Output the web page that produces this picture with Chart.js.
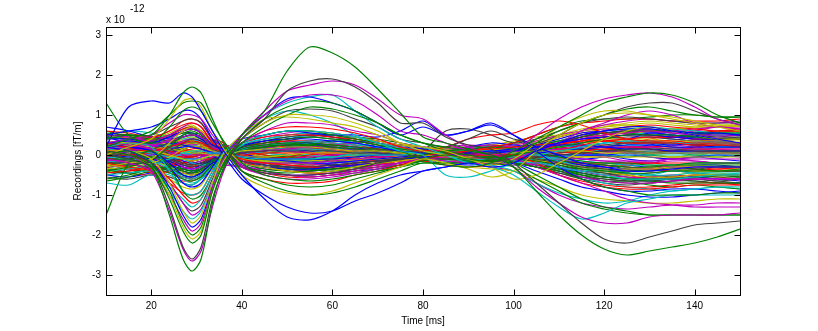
<!DOCTYPE html>
<html>
<head>
<meta charset="utf-8">
<script src="https://cdn.jsdelivr.net/npm/chart.js@4"></script>
<style>
  html, body { margin: 0; padding: 0; background: #fff; }
  #wrap { width: 818px; height: 331px; }
</style>
</head>
<body>
<div id="wrap"><canvas id="meg_chart" width="818" height="331"></canvas></div>
<script>
// sample times (ms)
const timeMs = [10,15,20,24,27,29,31,33.5, 36,40,45,50,55,60,65,70, 75,80,85,90,95,100,105,110, 115,120,125,130,135,140,145,150];
const xTickValues = [20,40,60,80,100,120,140];
const yTickValues = [-3,-2,-1,0,1,2,3];

// channels with the large deflections (x 1e-12)
const strongChannels = [
  [0.1,0.0,-0.3,-1.5,-2.6,-2.9,-2.6,-1.2, -0.3,0.5,1.1,2.1,2.7,2.55,2.2,1.65, 1.05,0.45,0.3,0.15,0.0,-0.3,-0.9,-1.5, -2.0,-2.35,-2.5,-2.4,-2.3,-2.2,-2.05,-1.85],
  [0.0,-0.1,-0.3,-1.3,-2.3,-2.6,-2.3,-1.1, -0.35,0.4,0.9,1.6,1.85,1.9,1.7,1.3, 0.8,0.8,0.45,0.25,0.15,-0.2,-0.7,-1.2, -1.7,-2.1,-2.2,-2.05,-1.9,-1.75,-1.7,-1.65],
  [0.1,0.0,-0.4,-1.4,-2.35,-2.65,-2.4,-1.3, -0.4,0.5,1.1,1.6,1.75,1.85,1.75,1.4, 1.0,0.9,0.5,0.2,0.0,-0.3,-0.8,-1.2, -1.55,-1.7,-1.7,-1.55,-1.5,-1.5,-1.5,-1.45],
  [0.4,0.5,0.5,1.0,1.55,1.7,1.55,0.9, 0.3,-0.4,-0.7,-0.9,-1.0,-0.95,-0.8,-0.6, -0.4,-0.2,-0.25,-0.3,-0.2,0.1,0.4,0.7, 1.0,1.3,1.45,1.55,1.5,1.3,1.0,0.8],
  [0.2,1.2,1.35,1.3,1.55,1.45,1.1,0.6, 0.1,-0.5,-1.1,-1.55,-1.62,-1.4,-1.0,-0.7, -0.5,-0.4,-0.3,-0.2,-0.3,-0.2,0.1,0.3, 0.5,0.6,0.7,0.7,0.6,0.5,0.4,0.3],
  [0.0,0.2,0.4,0.9,1.35,1.4,1.2,0.6, 0.15,-0.5,-0.8,-0.95,-1.0,-0.9,-0.7,-0.5, -0.3,-0.1,-0.2,-0.35,-0.55,-0.4,0.1,0.5, 0.8,1.0,1.05,1.0,0.95,0.85,0.75,0.7],
  [0.2,0.4,0.6,1.0,1.3,1.35,1.3,0.8, 0.35,-0.2,-0.5,-0.6,-0.65,-0.6,-0.5,-0.4, -0.3,-0.1,0.0,-0.1,-0.15,0.0,0.3,0.6, 0.8,1.0,1.15,1.2,1.1,1.0,0.95,0.95],
  [0.0,-0.1,-0.3,-1.1,-1.9,-2.2,-2.0,-0.9, -0.2,0.4,0.9,1.2,1.35,1.3,1.1,0.8, 0.5,0.3,0.2,0.1,0.0,-0.2,-0.5,-0.8, -1.1,-1.3,-1.4,-1.5,-1.5,-1.5,-1.5,-1.5],
  [0.1,0.0,-0.3,-1.0,-1.8,-2.1,-1.9,-0.9, -0.15,0.4,0.8,1.0,1.0,0.95,0.8,0.6, 0.3,0.2,0.1,-0.1,-0.3,-0.6,-0.5,-0.2, 0.1,0.4,0.6,0.7,0.6,0.5,0.4,0.4],
  [0.0,0.1,-0.2,-0.9,-1.7,-2.0,-1.8,-0.9, -0.25,0.3,0.7,1.0,1.2,1.15,1.0,0.8, 0.5,0.3,0.1,0.0,-0.1,-0.2,-0.3,-0.4, -0.6,-0.8,-0.9,-1.0,-1.0,-1.0,-0.95,-0.95],
  [-0.1,-0.2,-0.4,-1.0,-1.6,-1.9,-1.7,-0.8, -0.1,0.5,1.0,1.35,1.5,1.5,1.35,1.0, 0.6,0.5,0.3,0.1,0.0,0.1,0.5,0.9, 1.2,1.4,1.5,1.55,1.45,1.2,0.9,0.75],
  [0.2,0.1,-0.2,-0.8,-1.5,-1.8,-1.6,-0.8, -0.15,0.5,1.0,1.4,1.45,1.3,1.1,0.8, 0.5,0.7,0.5,0.6,0.75,0.5,0.2,0.0, -0.2,-0.3,-0.4,-0.4,-0.35,-0.3,-0.3,-0.3],
  [0.1,0.1,-0.1,-0.7,-1.4,-1.7,-1.5,-0.7, 0.05,0.5,0.9,0.95,0.9,0.8,0.7,0.5, 0.3,0.1,0.0,-0.1,-0.2,-0.1,0.3,0.7, 0.95,1.1,1.1,1.0,0.9,0.8,0.7,0.6],
  [0.0,-0.1,-0.3,-0.9,-1.4,-1.6,-1.4,-0.7, -0.1,0.5,1.0,1.3,1.45,1.5,1.1,0.7, 0.4,0.2,0.0,-0.2,-0.3,-0.5,-0.9,-1.3, -1.6,-1.45,-1.2,-1.1,-1.0,-1.0,-1.0,-1.0],
  [0.2,0.1,-0.2,-0.7,-1.2,-1.5,-1.35,-0.7, -0.2,0.3,0.6,0.8,0.8,0.75,0.6,0.5, 0.3,0.2,0.1,0.0,-0.1,-0.1,-0.3,-0.5, -0.7,-0.9,-1.1,-1.2,-1.25,-1.3,-1.3,-1.3],
  [0.0,0.0,-0.2,-0.7,-1.2,-1.4,-1.25,-0.6, -0.05,0.4,0.8,1.1,1.15,1.1,0.9,0.7, 0.4,0.3,0.2,0.4,0.6,0.4,0.3,0.5, 0.8,1.0,1.2,1.3,1.3,1.1,0.9,0.75],
  [-0.7,-0.75,-0.5,-0.8,-1.1,-1.3,-1.1,-0.5, 0.05,0.3,0.5,0.6,0.6,0.55,0.45,0.3, 0.1,0.0,-0.5,-0.55,-0.4,-0.2,-0.2,-0.3, -0.4,-0.5,-0.6,-0.6,-0.6,-0.55,-0.5,-0.5],
  [0.1,0.0,-0.2,-0.6,-1.0,-1.2,-1.1,-0.5, -0.1,0.3,0.6,0.7,0.7,0.65,0.55,0.4, 0.2,0.1,0.2,0.4,0.5,0.55,0.75,0.85, 0.75,0.55,0.4,0.35,0.35,0.3,0.3,0.3],
  [1.3,0.5,0.3,0.7,1.1,1.2,1.1,0.6, 0.2,-0.4,-0.6,-0.75,-0.8,-0.75,-0.6,-0.45, -0.3,-0.2,-0.2,-0.2,-0.1,0.0,0.1,0.2, 0.3,0.4,0.5,0.5,0.5,0.45,0.4,0.4],
  [0.3,0.4,0.5,0.8,1.0,1.0,0.9,0.5, 0.15,-0.3,-0.5,-0.6,-0.6,-0.55,-0.45,-0.35, -0.2,-0.1,-0.15,-0.2,-0.2,-0.1,0.1,0.3, 0.6,0.8,1.0,1.1,1.0,0.8,0.7,0.65],
  [0.5,0.6,0.7,0.9,1.1,1.1,0.9,0.4, 0.0,-0.6,-1.0,-1.3,-1.45,-1.4,-1.15,-0.95, -0.7,-0.4,-0.3,-0.2,-0.2,-0.2,-0.4,-0.6, -0.8,-0.9,-1.0,-1.05,-1.05,-1.0,-0.95,-0.9],
  [-1.5,-0.2,0.1,-0.3,-0.9,-1.1,-1.0,-0.5, 0.1,0.3,0.5,0.6,0.6,0.5,0.4,0.3, 0.1,-0.1,-0.1,-0.15,-0.2,-0.3,-0.6,-0.9, -1.2,-1.35,-1.45,-1.5,-1.5,-1.5,-1.5,-1.5],
  [0.5,0.5,0.5,0.7,0.85,0.9,0.8,0.4, 0.2,-0.3,-0.45,-0.5,-0.5,-0.45,-0.35,-0.2, -0.1,0.1,0.6,0.65,0.5,0.3,0.4,0.6, 0.8,0.9,0.95,0.9,0.85,0.8,0.8,0.8],
  [0.2,0.3,0.2,-0.4,-0.9,-1.0,-0.9,-0.4, 0.05,0.5,0.9,1.1,1.0,0.8,0.5,0.3, 0.2,0.1,0.0,-0.2,-0.25,-0.4,-0.7,-0.95, -1.1,-1.2,-1.15,-1.0,-0.9,-0.85,-0.8,-0.8],
  [0.3,0.2,0.4,0.6,0.75,0.8,0.7,0.3, 0.15,-0.4,-0.6,-0.7,-0.7,-0.65,-0.5,-0.4, -0.25,-0.1,0.0,0.1,0.2,0.3,0.5,0.7, 0.8,0.85,0.9,0.9,0.85,0.85,0.85,0.9],
  [0.3,0.2,0.1,-0.3,-0.7,-0.8,-0.7,-0.3, 0.1,0.4,0.5,0.6,0.55,0.5,0.5,0.45, 0.6,0.85,0.5,0.6,0.8,0.5,0.1,-0.3, -0.6,-0.8,-0.9,-0.9,-0.85,-0.85,-0.9,-0.95],
  [-0.3,-0.2,-0.1,0.3,0.6,0.7,0.6,0.3, 0.2,-0.2,-0.3,-0.4,-0.45,-0.4,-0.3,-0.2, -0.15,-0.1,-0.2,-0.3,-0.35,-0.4,-0.6,-0.8, -1.0,-1.1,-1.15,-1.2,-1.2,-1.15,-1.1,-1.1],
  [0.0,0.1,0.2,0.4,0.6,0.65,0.55,0.2, 0.1,-0.3,-0.45,-0.5,-0.5,-0.45,-0.35,-0.25, -0.2,-0.1,-0.1,-0.2,-0.3,-0.4,-0.7,-1.0, -1.2,-1.3,-1.35,-1.3,-1.25,-1.25,-1.2,-1.2],
  [-0.4,-0.3,-0.1,0.2,0.5,0.55,0.5,0.2, 0.1,-0.3,-0.4,-0.45,-0.4,-0.35,-0.3,-0.2, -0.1,0.0,0.1,0.15,0.2,0.3,0.5,0.7, 0.85,0.9,0.9,0.95,1.0,1.0,0.95,0.95],
  [-0.2,-0.3,-0.4,-0.7,-0.95,-1.0,-0.9,-0.4, 0.05,0.3,0.45,0.5,0.5,0.45,0.4,0.3, 0.2,0.1,0.1,0.0,0.0,0.0,-0.2,-0.5, -0.7,-0.8,-0.85,-0.85,-0.8,-0.75,-0.75,-0.75]
];
const strongColors = "gkmgbyggygmbycmkcrgmbgkcrbymgr";

// the dense band of smaller channels (x 1e-12)
const bandChannels = [
  [0.3,0.35,0.3,0.45,0.6,0.65,0.55,0.25, 0.15,-0.2,-0.3,-0.35,-0.35,-0.3,-0.25,-0.2, -0.1,-0.05,0.0,0.05,0.1,0.1,0.2,0.3, 0.4,0.45,0.5,0.5,0.45,0.4,0.4,0.4],
  [-0.2,-0.25,-0.3,-0.45,-0.6,-0.65,-0.55,-0.25, -0.1,0.2,0.3,0.4,0.45,0.4,0.35,0.25, 0.15,0.1,0.05,0.0,-0.05,-0.1,-0.15,-0.25, -0.35,-0.4,-0.45,-0.45,-0.4,-0.4,-0.4,-0.4],
  [0.1,0.15,0.1,0.2,0.3,0.35,0.3,0.15, 0.1,-0.1,-0.2,-0.25,-0.3,-0.3,-0.25,-0.2, -0.1,0.0,0.05,0.1,0.15,0.2,0.25,0.3, 0.35,0.35,0.3,0.3,0.3,0.25,0.25,0.25],
  [-0.5,-0.45,-0.4,-0.5,-0.7,-0.75,-0.6,-0.3, -0.2,0.25,0.4,0.5,0.55,0.5,0.4,0.3, 0.2,0.1,0.0,-0.1,-0.1,-0.05,0.0,0.1, 0.2,0.3,0.35,0.35,0.3,0.3,0.3,0.3],
  [0.5,0.45,0.35,0.5,0.7,0.8,0.7,0.35, 0.25,-0.25,-0.4,-0.5,-0.55,-0.5,-0.4,-0.3, -0.2,-0.1,-0.05,0.0,0.0,-0.1,-0.25,-0.4, -0.55,-0.65,-0.7,-0.7,-0.65,-0.6,-0.6,-0.6],
  [0.0,0.05,0.1,0.0,-0.1,-0.15,-0.1,0.0, 0.0,0.1,0.15,0.2,0.2,0.15,0.1,0.1, 0.05,0.0,-0.05,-0.05,0.0,0.05,0.1,0.1, 0.1,0.05,0.05,0.05,0.05,0.05,0.05,0.05],
  [-0.3,-0.2,-0.1,0.1,0.3,0.4,0.35,0.15, 0.05,-0.15,-0.25,-0.3,-0.3,-0.25,-0.2,-0.15, -0.1,-0.05,0.0,0.05,0.05,0.0,-0.1,-0.2, -0.3,-0.35,-0.4,-0.4,-0.35,-0.35,-0.3,-0.3],
  [0.25,0.2,0.1,-0.2,-0.5,-0.55,-0.45,-0.2, -0.15,0.2,0.35,0.4,0.4,0.35,0.3,0.2, 0.1,0.05,0.0,0.0,0.05,0.1,0.25,0.4, 0.55,0.6,0.65,0.65,0.6,0.55,0.55,0.5],
  [-0.1,-0.1,-0.05,-0.25,-0.4,-0.45,-0.4,-0.2, -0.05,0.1,0.2,0.25,0.25,0.2,0.15,0.1, 0.05,0.05,0.1,0.15,0.2,0.15,0.05,-0.05, -0.15,-0.2,-0.2,-0.25,-0.25,-0.2,-0.2,-0.2],
  [0.6,0.55,0.45,0.6,0.85,0.9,0.8,0.4, 0.3,-0.3,-0.45,-0.55,-0.55,-0.5,-0.4,-0.3, -0.2,-0.1,0.0,0.05,0.0,-0.05,0.0,0.1, 0.25,0.35,0.4,0.45,0.45,0.4,0.4,0.4],
  [-0.4,-0.35,-0.25,-0.1,0.05,0.1,0.1,0.05, 0.05,-0.05,-0.1,-0.1,-0.1,-0.05,0.0,0.0, 0.0,0.05,0.1,0.1,0.1,0.05,0.0,-0.1, -0.15,-0.2,-0.25,-0.25,-0.25,-0.2,-0.2,-0.2],
  [0.15,0.2,0.25,0.35,0.45,0.5,0.45,0.2, 0.1,-0.15,-0.2,-0.2,-0.2,-0.15,-0.1,-0.05, 0.0,0.05,0.1,0.2,0.25,0.2,0.2,0.3, 0.4,0.5,0.55,0.6,0.55,0.5,0.5,0.5],
  [-0.25,-0.3,-0.4,-0.6,-0.8,-0.85,-0.75,-0.35, -0.25,0.3,0.5,0.6,0.6,0.55,0.45,0.35, 0.25,0.2,0.15,0.1,0.05,0.0,-0.1,-0.2, -0.3,-0.35,-0.35,-0.35,-0.3,-0.3,-0.3,-0.3],
  [0.05,0.0,-0.05,-0.1,-0.2,-0.25,-0.2,-0.1, -0.05,0.05,0.1,0.1,0.1,0.1,0.05,0.05, 0.0,-0.05,-0.1,-0.1,-0.15,-0.1,-0.05,0.0, 0.05,0.1,0.15,0.15,0.15,0.1,0.1,0.1],
  [0.4,0.4,0.35,0.3,0.25,0.2,0.15,0.05, 0.0,-0.05,-0.1,-0.15,-0.2,-0.2,-0.15,-0.1, -0.05,0.0,0.0,0.05,0.1,0.15,0.2,0.25, 0.25,0.2,0.15,0.15,0.1,0.1,0.1,0.1],
  [-0.6,-0.5,-0.35,-0.3,-0.35,-0.4,-0.35,-0.15, -0.1,0.15,0.25,0.3,0.3,0.25,0.2,0.15, 0.1,0.05,-0.05,-0.1,-0.15,-0.2,-0.3,-0.4, -0.5,-0.55,-0.6,-0.6,-0.6,-0.55,-0.55,-0.55],
  [0.2,0.3,0.35,0.5,0.65,0.7,0.6,0.3, 0.2,-0.15,-0.3,-0.4,-0.45,-0.45,-0.35,-0.25, -0.15,-0.1,-0.05,-0.1,-0.15,-0.1,0.1,0.3, 0.5,0.6,0.7,0.75,0.7,0.65,0.6,0.6],
  [-0.05,-0.1,-0.15,-0.35,-0.55,-0.6,-0.5,-0.25, -0.2,0.15,0.25,0.3,0.35,0.3,0.25,0.2, 0.15,0.1,0.1,0.15,0.2,0.15,0.0,-0.15, -0.3,-0.4,-0.45,-0.5,-0.5,-0.45,-0.45,-0.45],
  [0.3,0.25,0.15,0.05,0.0,0.0,0.0,0.0, 0.05,0.05,0.1,0.15,0.2,0.2,0.15,0.1, 0.05,0.0,-0.05,-0.05,0.0,0.05,0.1,0.15, 0.2,0.2,0.2,0.2,0.15,0.15,0.15,0.15],
  [-0.35,-0.3,-0.2,-0.05,0.15,0.2,0.2,0.1, 0.1,-0.1,-0.15,-0.2,-0.2,-0.15,-0.1,-0.1, -0.05,-0.05,-0.1,-0.2,-0.25,-0.2,-0.15,-0.2, -0.3,-0.4,-0.5,-0.55,-0.55,-0.5,-0.5,-0.5],
  [0.1,0.1,0.15,0.3,0.45,0.5,0.45,0.2, 0.15,-0.2,-0.3,-0.3,-0.3,-0.25,-0.2,-0.15, -0.1,-0.05,0.05,0.1,0.1,0.05,0.15,0.3, 0.45,0.55,0.6,0.6,0.55,0.5,0.45,0.45],
  [0.0,-0.05,-0.1,-0.25,-0.35,-0.4,-0.35,-0.15, -0.1,0.1,0.15,0.2,0.2,0.15,0.1,0.05, 0.0,0.0,0.05,0.05,0.05,0.05,0.0,0.0, 0.0,0.0,0.05,0.05,0.05,0.05,0.05,0.05],
  [0.45,0.4,0.3,0.35,0.45,0.5,0.45,0.2, 0.1,-0.2,-0.35,-0.4,-0.4,-0.35,-0.3,-0.2, -0.15,-0.1,-0.1,-0.05,-0.05,-0.05,-0.1,-0.15, -0.2,-0.25,-0.3,-0.3,-0.25,-0.25,-0.25,-0.25],
  [-0.45,-0.4,-0.35,-0.45,-0.55,-0.6,-0.5,-0.2, -0.1,0.2,0.3,0.35,0.35,0.3,0.25,0.15, 0.1,0.05,0.0,-0.05,-0.05,0.0,0.1,0.25, 0.35,0.45,0.5,0.5,0.45,0.4,0.4,0.4],
  [0.2,0.15,0.05,-0.05,-0.1,-0.1,-0.1,0.0, 0.05,0.1,0.15,0.15,0.15,0.1,0.05,0.05, 0.0,-0.05,-0.1,-0.15,-0.2,-0.15,-0.1,-0.05, 0.0,0.0,0.0,0.0,0.0,0.0,0.0,0.0],
  [-0.15,-0.1,0.0,0.2,0.35,0.4,0.35,0.15, 0.1,-0.1,-0.2,-0.25,-0.25,-0.2,-0.15,-0.1, -0.05,0.0,0.05,0.1,0.1,0.1,0.0,-0.1, -0.2,-0.25,-0.3,-0.35,-0.3,-0.3,-0.3,-0.3],
  [0.35,0.3,0.2,0.15,0.1,0.05,0.05,0.0, -0.05,-0.05,-0.05,0.0,0.05,0.05,0.05,0.05, 0.05,0.05,0.05,0.1,0.15,0.15,0.2,0.3, 0.35,0.4,0.4,0.4,0.35,0.35,0.35,0.35],
  [-0.2,-0.2,-0.25,-0.4,-0.55,-0.6,-0.5,-0.25, -0.15,0.2,0.35,0.45,0.5,0.45,0.35,0.25, 0.15,0.1,0.05,0.0,-0.05,-0.05,-0.05,0.0, 0.05,0.1,0.1,0.1,0.1,0.1,0.1,0.1],
  [0.0,0.05,0.1,0.15,0.2,0.2,0.2,0.1, 0.1,-0.05,-0.1,-0.1,-0.1,-0.1,-0.05,0.0, 0.0,0.05,0.05,0.05,0.0,-0.05,-0.1,-0.15, -0.25,-0.3,-0.35,-0.35,-0.3,-0.3,-0.3,-0.3],
  [0.55,0.5,0.4,0.45,0.55,0.6,0.5,0.25, 0.2,-0.2,-0.3,-0.35,-0.35,-0.3,-0.25,-0.2, -0.1,0.0,0.1,0.15,0.2,0.2,0.25,0.35, 0.45,0.55,0.6,0.6,0.6,0.55,0.55,0.55],
  [-0.05,0.0,0.05,0.0,-0.05,-0.05,0.0,0.0, 0.0,0.0,0.05,0.05,0.05,0.05,0.05,0.05, 0.05,0.0,-0.05,-0.1,-0.1,-0.1,-0.15,-0.2, -0.2,-0.2,-0.2,-0.2,-0.2,-0.2,-0.2,-0.2],
  [0.15,0.1,0.0,-0.3,-0.6,-0.7,-0.6,-0.3, -0.2,0.25,0.4,0.45,0.45,0.4,0.3,0.2, 0.1,0.05,0.05,0.1,0.1,0.1,0.2,0.35, 0.5,0.6,0.65,0.7,0.65,0.6,0.55,0.55],
  [-0.3,-0.25,-0.15,0.0,0.15,0.2,0.15,0.05, 0.05,-0.05,-0.1,-0.1,-0.05,0.0,0.05,0.05, 0.05,0.05,0.0,-0.05,-0.1,-0.1,-0.2,-0.3, -0.4,-0.5,-0.55,-0.6,-0.6,-0.6,-0.6,-0.6],
  [0.25,0.3,0.3,0.35,0.35,0.35,0.3,0.15, 0.1,-0.1,-0.15,-0.15,-0.15,-0.1,-0.05,0.0, 0.0,0.05,0.1,0.15,0.15,0.1,0.05,0.0, -0.05,-0.05,-0.05,-0.05,-0.05,-0.05,-0.05,-0.05],
  [-0.1,-0.15,-0.2,-0.15,-0.1,-0.05,0.0,0.0, 0.0,-0.05,-0.05,-0.1,-0.1,-0.1,-0.05,0.0, 0.0,-0.05,-0.1,-0.15,-0.15,-0.1,-0.05,0.05, 0.15,0.25,0.3,0.3,0.3,0.25,0.25,0.25],
  [0.7,0.6,0.45,0.4,0.45,0.5,0.4,0.2, 0.15,-0.15,-0.25,-0.3,-0.3,-0.25,-0.2,-0.15, -0.1,-0.05,0.0,0.0,0.05,0.05,0.05,0.1, 0.15,0.2,0.25,0.25,0.2,0.2,0.2,0.2],
  [-0.65,-0.55,-0.4,-0.35,-0.4,-0.45,-0.35,-0.15, -0.1,0.1,0.2,0.25,0.25,0.2,0.15,0.1, 0.05,0.0,-0.05,-0.05,-0.05,-0.1,-0.2,-0.35, -0.45,-0.55,-0.6,-0.65,-0.7,-0.7,-0.7,-0.7],
  [0.1,0.15,0.2,0.1,0.0,-0.05,0.0,0.0, 0.05,0.1,0.15,0.15,0.15,0.15,0.1,0.1, 0.05,0.05,0.1,0.1,0.05,0.0,0.0,0.05, 0.1,0.15,0.2,0.2,0.2,0.15,0.15,0.15],
  [-0.15,-0.2,-0.2,-0.1,0.0,0.05,0.05,0.0, -0.05,-0.1,-0.15,-0.2,-0.2,-0.2,-0.15,-0.1, -0.05,0.0,0.0,0.0,0.0,0.05,0.1,0.2, 0.25,0.3,0.3,0.3,0.3,0.3,0.3,0.3],
  [0.35,0.3,0.25,0.1,-0.05,-0.1,-0.05,0.0, 0.05,0.1,0.15,0.1,0.05,0.05,0.05,0.05, 0.0,-0.05,-0.05,0.0,0.05,0.05,0.0,-0.05, -0.1,-0.15,-0.15,-0.15,-0.1,-0.1,-0.1,-0.1],
  [-0.25,-0.15,-0.05,0.1,0.25,0.3,0.25,0.1, 0.1,-0.1,-0.2,-0.25,-0.25,-0.2,-0.15,-0.1, -0.05,-0.05,-0.05,0.0,0.0,0.0,0.1,0.2, 0.3,0.35,0.35,0.35,0.35,0.3,0.3,0.3],
  [0.05,0.1,0.05,-0.1,-0.25,-0.3,-0.25,-0.1, -0.1,0.05,0.1,0.15,0.2,0.2,0.15,0.1, 0.05,0.0,-0.05,-0.1,-0.15,-0.2,-0.3,-0.45, -0.55,-0.6,-0.65,-0.65,-0.6,-0.55,-0.5,-0.5],
  [0.45,0.3,0.2,0.3,0.5,0.55,0.45,0.3, 0.2,0.05,-0.1,-0.2,-0.15,-0.25,-0.3,-0.2, -0.1,0.0,0.1,0.0,-0.1,0.05,0.2,0.35, 0.3,0.45,0.4,0.55,0.5,0.45,0.55,0.5],
  [-0.35,-0.45,-0.3,-0.35,-0.5,-0.55,-0.45,-0.3, -0.15,0.05,0.2,0.3,0.25,0.35,0.3,0.2, 0.1,0.0,-0.1,0.0,0.1,0.0,-0.1,-0.2, -0.3,-0.25,-0.35,-0.4,-0.3,-0.35,-0.4,-0.35],
  [0.05,0.2,0.1,0.0,0.1,0.15,0.2,0.25, 0.2,0.1,0.0,-0.1,0.0,0.1,0.05,-0.05, 0.0,0.1,0.05,-0.05,0.0,0.1,0.2,0.15, 0.05,0.1,0.2,0.15,0.1,0.2,0.25,0.2],
  [-0.2,-0.05,0.1,0.05,-0.1,-0.2,-0.25,-0.2, -0.1,0.0,0.15,0.1,0.0,-0.05,0.05,0.1, 0.05,-0.05,-0.15,-0.1,0.0,-0.05,-0.15,-0.3, -0.4,-0.35,-0.45,-0.5,-0.4,-0.45,-0.5,-0.45],
  [0.25,0.35,0.45,0.4,0.3,0.25,0.3,0.3, 0.25,0.2,0.25,0.3,0.35,0.3,0.2,0.15, 0.1,0.05,0.15,0.2,0.1,0.05,0.15,0.3, 0.45,0.5,0.6,0.65,0.55,0.6,0.7,0.65],
  [-0.45,-0.3,-0.15,-0.3,-0.45,-0.5,-0.4,-0.25, -0.15,0.0,0.05,0.15,0.2,0.15,0.1,0.0, -0.05,0.05,0.0,-0.1,-0.05,0.05,0.0,-0.1, -0.05,0.0,0.1,0.05,-0.05,0.0,0.05,0.0],
  [0.15,0.0,-0.1,0.05,0.25,0.3,0.25,0.2, 0.1,-0.05,-0.15,-0.25,-0.3,-0.35,-0.3,-0.25, -0.2,-0.1,-0.05,0.05,0.1,0.0,-0.1,-0.25, -0.4,-0.5,-0.45,-0.55,-0.6,-0.55,-0.5,-0.55],
  [-0.1,0.1,0.25,0.15,0.0,-0.1,-0.05,0.1, 0.2,0.25,0.35,0.4,0.5,0.45,0.35,0.3, 0.2,0.15,0.1,0.2,0.3,0.25,0.2,0.25, 0.2,0.3,0.35,0.3,0.25,0.3,0.35,0.3],
  [0.6,0.45,0.35,0.5,0.65,0.7,0.55,0.35, 0.15,-0.05,-0.2,-0.3,-0.35,-0.4,-0.35,-0.3, -0.25,-0.15,-0.05,0.0,-0.05,-0.15,-0.25,-0.35, -0.5,-0.6,-0.65,-0.75,-0.8,-0.75,-0.8,-0.85],
  [-0.05,-0.2,-0.35,-0.25,-0.1,0.0,0.05,0.1, 0.05,0.0,-0.1,-0.05,0.05,0.0,-0.1,-0.15, -0.1,0.0,0.1,0.05,-0.05,-0.1,0.0,0.15, 0.3,0.35,0.3,0.4,0.45,0.4,0.35,0.4],
  [0.3,0.15,0.05,0.15,0.3,0.35,0.35,0.3, 0.25,0.15,0.05,0.0,0.05,0.15,0.2,0.15, 0.05,0.0,0.05,0.15,0.2,0.15,0.05,0.0, 0.05,0.15,0.25,0.3,0.2,0.15,0.2,0.2],
  [-0.3,-0.15,0.0,-0.1,-0.3,-0.35,-0.3,-0.25, -0.25,-0.3,-0.35,-0.4,-0.45,-0.4,-0.3,-0.25, -0.2,-0.1,-0.05,-0.1,-0.2,-0.25,-0.2,-0.1, 0.0,-0.05,-0.15,-0.2,-0.1,-0.15,-0.2,-0.2],
  [0.1,0.25,0.4,0.55,0.7,0.75,0.6,0.35, 0.15,-0.05,-0.15,-0.2,-0.15,-0.1,-0.15,-0.2, -0.15,-0.05,0.05,0.1,0.05,0.1,0.25,0.45, 0.6,0.7,0.8,0.85,0.8,0.75,0.7,0.75],
  [-0.55,-0.6,-0.5,-0.55,-0.7,-0.75,-0.6,-0.35, -0.1,0.1,0.25,0.35,0.45,0.5,0.45,0.35, 0.25,0.15,0.05,-0.05,-0.1,-0.05,0.0,-0.1, -0.25,-0.35,-0.45,-0.5,-0.55,-0.6,-0.65,-0.6],
  [0.0,0.1,0.0,-0.15,-0.3,-0.35,-0.25,-0.1, 0.05,0.2,0.3,0.35,0.3,0.2,0.15,0.2, 0.25,0.2,0.1,0.05,0.1,0.15,0.1,0.0, -0.1,-0.05,0.0,-0.05,-0.1,-0.05,0.0,-0.05],
  [0.2,0.05,-0.05,0.1,0.25,0.3,0.3,0.25, 0.2,0.1,0.0,-0.05,-0.1,-0.05,0.05,0.1, 0.05,-0.05,-0.15,-0.2,-0.15,-0.05,0.1,0.2, 0.25,0.2,0.1,0.05,0.1,0.15,0.1,0.05],
  [-0.15,-0.3,-0.4,-0.3,-0.2,-0.15,-0.1,-0.1, -0.05,-0.1,-0.2,-0.3,-0.35,-0.3,-0.2,-0.15, -0.1,-0.15,-0.25,-0.3,-0.25,-0.15,-0.05,-0.15, -0.3,-0.4,-0.5,-0.6,-0.55,-0.5,-0.55,-0.6],
  [0.5,0.6,0.55,0.45,0.4,0.4,0.35,0.3, 0.2,0.1,0.05,0.1,0.15,0.2,0.15,0.1, 0.05,0.1,0.15,0.1,0.0,-0.05,0.05,0.2, 0.35,0.45,0.5,0.55,0.5,0.45,0.5,0.55],
  [-0.25,-0.1,0.05,0.2,0.35,0.4,0.3,0.15, -0.05,-0.2,-0.3,-0.35,-0.4,-0.35,-0.25,-0.2, -0.15,-0.05,0.0,0.05,0.0,-0.1,-0.2,-0.15, -0.05,0.05,0.1,0.2,0.25,0.2,0.15,0.1],
  [0.05,-0.05,-0.15,-0.05,0.05,0.1,0.15,0.2, 0.15,0.05,-0.05,-0.1,-0.05,0.05,0.1,0.05, 0.0,0.05,0.0,-0.05,0.05,0.1,0.0,-0.15, -0.25,-0.2,-0.3,-0.35,-0.3,-0.25,-0.3,-0.3],
  [0.35,0.25,0.3,0.45,0.6,0.65,0.55,0.3, 0.05,-0.1,-0.25,-0.35,-0.4,-0.3,-0.2,-0.1, -0.05,0.05,0.1,0.2,0.25,0.15,0.1,0.2, 0.3,0.4,0.45,0.45,0.4,0.35,0.4,0.45],
  [-0.4,-0.25,-0.1,-0.05,-0.15,-0.2,-0.2,-0.15, -0.1,0.0,0.1,0.15,0.1,0.0,-0.1,-0.1, -0.05,-0.1,-0.2,-0.25,-0.2,-0.1,-0.15,-0.3, -0.45,-0.55,-0.6,-0.65,-0.6,-0.55,-0.6,-0.65],
  [0.1,0.0,-0.05,0.05,0.15,0.2,0.2,0.15, 0.1,0.05,0.1,0.2,0.25,0.25,0.2,0.1, 0.0,-0.1,-0.05,0.05,0.1,0.05,0.15,0.3, 0.45,0.55,0.55,0.5,0.45,0.5,0.55,0.5],
  [-0.2,-0.35,-0.45,-0.55,-0.65,-0.65,-0.55,-0.35, -0.15,0.0,0.15,0.2,0.2,0.15,0.05,0.0, 0.0,0.05,0.05,0.0,-0.05,0.0,0.05,0.05, 0.1,0.15,0.1,0.05,0.1,0.1,0.05,0.05],
  [0.25,0.4,0.3,0.15,0.05,0.0,0.0,0.05, 0.1,0.15,0.15,0.2,0.3,0.35,0.3,0.2, 0.1,0.0,-0.1,-0.15,-0.1,0.0,0.05,0.1, 0.2,0.3,0.35,0.3,0.25,0.3,0.3,0.25],
  [-0.1,0.05,0.15,0.05,-0.15,-0.2,-0.15,-0.05, 0.05,0.15,0.2,0.15,0.05,-0.05,-0.1,-0.05, 0.0,0.05,0.1,0.05,-0.05,-0.15,-0.2,-0.1, 0.0,0.1,0.05,-0.05,-0.1,-0.05,0.0,0.0],
  [0.4,0.5,0.4,0.25,0.15,0.1,0.1,0.05, -0.05,-0.1,-0.05,0.05,0.1,0.05,0.0,0.05, 0.1,0.15,0.2,0.2,0.25,0.35,0.45,0.5, 0.5,0.45,0.5,0.6,0.65,0.6,0.55,0.6],
  [-0.5,-0.4,-0.3,-0.35,-0.45,-0.5,-0.45,-0.3, -0.1,0.1,0.2,0.25,0.2,0.1,0.0,-0.1, -0.15,-0.1,0.0,0.05,0.0,-0.1,-0.25,-0.35, -0.4,-0.45,-0.5,-0.45,-0.4,-0.45,-0.5,-0.5],
  [0.0,-0.1,-0.2,-0.15,0.0,0.05,0.1,0.05, -0.05,-0.1,-0.15,-0.2,-0.2,-0.25,-0.25,-0.2, -0.15,-0.1,-0.05,-0.05,-0.1,-0.05,0.05,0.15, 0.15,0.1,0.15,0.25,0.3,0.25,0.2,0.2],
  [0.2,0.3,0.4,0.35,0.25,0.2,0.15,0.05, -0.05,-0.1,-0.1,-0.05,0.0,0.05,0.1,0.1, 0.1,0.1,0.05,0.0,0.05,0.15,0.25,0.2, 0.1,0.0,-0.05,0.0,0.05,0.0,-0.05,0.0],
  [-0.3,-0.45,-0.5,-0.4,-0.35,-0.3,-0.2,-0.05, 0.1,0.2,0.25,0.2,0.15,0.1,0.05,0.0, -0.05,-0.05,0.0,0.05,0.0,-0.05,-0.1,-0.2, -0.25,-0.3,-0.25,-0.2,-0.25,-0.3,-0.35,-0.3],
  [0.55,0.35,0.2,0.25,0.35,0.4,0.35,0.25, 0.1,0.0,-0.1,-0.15,-0.1,-0.05,-0.1,-0.15, -0.1,0.0,0.0,-0.05,0.0,0.1,0.15,0.1, 0.05,0.1,0.2,0.25,0.2,0.15,0.2,0.25],
  [-0.05,0.05,0.0,-0.2,-0.4,-0.45,-0.35,-0.2, 0.0,0.15,0.25,0.25,0.2,0.25,0.3,0.35, 0.25,0.15,0.1,0.15,0.2,0.25,0.35,0.5, 0.6,0.65,0.6,0.55,0.6,0.65,0.7,0.7],
  [0.15,0.25,0.2,0.1,0.0,-0.05,-0.05,0.0, 0.05,0.05,0.0,-0.05,-0.1,-0.1,-0.05,0.0, 0.05,0.0,-0.05,-0.1,-0.05,0.0,-0.05,-0.15, -0.3,-0.4,-0.35,-0.3,-0.35,-0.4,-0.4,-0.35],
  [-0.15,0.0,0.1,0.25,0.45,0.5,0.4,0.2, 0.0,-0.15,-0.2,-0.15,-0.1,-0.15,-0.2,-0.15, -0.1,-0.05,0.0,0.05,0.1,0.2,0.25,0.2, 0.15,0.2,0.3,0.35,0.3,0.25,0.3,0.3],
  [0.3,0.2,0.05,-0.1,-0.25,-0.3,-0.25,-0.1, 0.1,0.2,0.2,0.15,0.1,0.15,0.2,0.15, 0.05,-0.05,-0.1,-0.05,0.05,0.0,-0.1,-0.05, 0.05,0.0,-0.1,-0.15,-0.1,-0.05,-0.1,-0.15],
  [0.2,0.25,0.3,0.2,0.1,0.05,0.0,-0.1, -0.2,-0.3,-0.4,-0.5,-0.55,-0.5,-0.45,-0.35, -0.25,-0.15,-0.1,-0.15,-0.2,-0.1,0.05,0.2, 0.35,0.5,0.6,0.65,0.6,0.55,0.5,0.55],
  [-0.1,-0.2,-0.15,0.0,0.15,0.2,0.15,0.1, 0.15,0.25,0.4,0.5,0.55,0.5,0.4,0.3, 0.2,0.1,0.0,-0.05,-0.1,-0.15,-0.3,-0.5, -0.65,-0.75,-0.8,-0.8,-0.75,-0.7,-0.7,-0.75],
  [0.35,0.2,0.1,0.15,0.3,0.35,0.3,0.2, 0.05,-0.15,-0.3,-0.4,-0.45,-0.4,-0.35,-0.3, -0.2,-0.1,-0.1,-0.2,-0.25,-0.2,-0.25,-0.4, -0.55,-0.7,-0.8,-0.85,-0.9,-0.85,-0.8,-0.85],
  [-0.3,-0.25,-0.2,-0.35,-0.45,-0.5,-0.4,-0.2, 0.05,0.3,0.45,0.55,0.6,0.55,0.45,0.35, 0.25,0.2,0.2,0.25,0.2,0.15,0.25,0.45, 0.6,0.75,0.85,0.9,0.85,0.8,0.8,0.85],
  [0.05,0.15,0.25,0.3,0.35,0.35,0.3,0.2, 0.1,0.0,-0.05,-0.1,-0.1,-0.05,0.0,0.05, 0.1,0.15,0.1,0.05,0.0,0.05,0.2,0.4, 0.55,0.65,0.7,0.7,0.65,0.65,0.7,0.75],
  [-0.45,-0.35,-0.25,-0.2,-0.25,-0.25,-0.2,-0.1, 0.0,0.05,0.05,0.1,0.15,0.2,0.2,0.15, 0.1,0.0,-0.1,-0.15,-0.1,-0.05,-0.15,-0.35, -0.5,-0.65,-0.7,-0.7,-0.65,-0.6,-0.65,-0.7],
  [0.1,0.05,0.0,0.15,0.35,0.4,0.35,0.15, -0.05,-0.25,-0.4,-0.5,-0.5,-0.45,-0.4,-0.35, -0.25,-0.15,-0.05,0.0,0.05,0.1,0.2,0.35, 0.5,0.55,0.6,0.55,0.5,0.5,0.55,0.6],
  [-0.2,-0.1,0.0,-0.15,-0.35,-0.4,-0.3,-0.1, 0.1,0.25,0.35,0.45,0.5,0.5,0.45,0.4, 0.3,0.2,0.15,0.1,0.05,0.0,-0.1,-0.2, -0.35,-0.45,-0.55,-0.6,-0.55,-0.5,-0.5,-0.55],
  [0.4,0.45,0.4,0.35,0.3,0.3,0.25,0.15, 0.05,-0.05,-0.1,-0.15,-0.2,-0.25,-0.25,-0.2, -0.1,0.0,0.05,0.0,-0.05,0.0,0.1,0.25, 0.4,0.5,0.55,0.6,0.65,0.6,0.6,0.65],
  [-0.1,-0.15,-0.25,-0.4,-0.5,-0.55,-0.45,-0.25, -0.05,0.15,0.25,0.3,0.35,0.35,0.3,0.2, 0.1,0.05,0.0,-0.05,-0.1,-0.05,0.05,0.1, 0.15,0.2,0.25,0.2,0.15,0.2,0.25,0.2],
  [0.25,0.15,0.05,0.0,-0.05,-0.05,0.0,0.05, 0.1,0.05,-0.05,-0.15,-0.2,-0.15,-0.1,-0.05, 0.0,0.05,0.1,0.15,0.1,0.0,-0.15,-0.3, -0.45,-0.55,-0.6,-0.55,-0.5,-0.55,-0.6,-0.6],
  [-0.25,-0.3,-0.3,-0.2,-0.05,0.0,0.05,0.05, 0.05,0.1,0.2,0.3,0.35,0.3,0.25,0.2, 0.15,0.1,0.1,0.15,0.2,0.25,0.35,0.5, 0.65,0.75,0.75,0.7,0.65,0.7,0.75,0.75],
  [0.15,0.3,0.45,0.5,0.55,0.55,0.45,0.3, 0.1,-0.1,-0.25,-0.3,-0.35,-0.3,-0.25,-0.2, -0.15,-0.1,-0.05,-0.1,-0.15,-0.2,-0.3,-0.45, -0.6,-0.7,-0.75,-0.7,-0.65,-0.65,-0.7,-0.7],
  [-0.5,-0.55,-0.45,-0.4,-0.45,-0.45,-0.35,-0.2, -0.05,0.1,0.2,0.25,0.3,0.3,0.25,0.2, 0.15,0.1,0.05,0.05,0.1,0.15,0.2,0.3, 0.4,0.45,0.5,0.5,0.45,0.45,0.5,0.5],
  [0.0,0.05,0.15,0.25,0.3,0.3,0.25,0.1, 0.0,-0.1,-0.15,-0.2,-0.25,-0.2,-0.15,-0.15, -0.1,-0.05,-0.05,-0.1,-0.15,-0.15,-0.1,-0.05, 0.0,0.05,0.05,0.0,-0.05,0.0,0.05,0.05],
  [0.3,0.2,0.15,0.0,-0.2,-0.25,-0.2,-0.05, 0.05,0.2,0.3,0.4,0.45,0.4,0.35,0.25, 0.15,0.1,0.05,0.1,0.15,0.1,0.0,-0.1, -0.2,-0.25,-0.3,-0.35,-0.4,-0.4,-0.35,-0.35],
  [-0.35,-0.2,-0.05,0.05,0.2,0.25,0.2,0.1, 0.0,-0.15,-0.3,-0.35,-0.35,-0.3,-0.25,-0.2, -0.1,-0.05,-0.1,-0.2,-0.3,-0.25,-0.15,-0.05, 0.1,0.2,0.3,0.35,0.3,0.3,0.35,0.3],
  [0.1,0.0,-0.1,-0.2,-0.3,-0.3,-0.25,-0.15, -0.05,0.05,0.1,0.2,0.25,0.25,0.2,0.15, 0.05,0.0,0.05,0.1,0.15,0.1,0.0,-0.05, -0.1,-0.15,-0.2,-0.2,-0.15,-0.15,-0.2,-0.2],
  [0.5,0.35,0.25,0.3,0.4,0.45,0.4,0.25, 0.1,-0.05,-0.15,-0.2,-0.25,-0.2,-0.1,-0.05, 0.0,0.05,0.1,0.15,0.15,0.2,0.3,0.45, 0.6,0.7,0.75,0.8,0.75,0.7,0.7,0.75],
  [-0.15,0.0,0.1,0.05,-0.1,-0.15,-0.1,0.0, 0.05,0.1,0.05,0.0,-0.05,-0.1,-0.05,0.0, 0.05,0.1,0.15,0.1,0.0,-0.1,-0.2,-0.3, -0.35,-0.4,-0.4,-0.35,-0.3,-0.35,-0.4,-0.4],
  [0.2,0.25,0.2,0.05,-0.1,-0.15,-0.1,0.0, 0.1,0.2,0.25,0.25,0.2,0.15,0.15,0.2, 0.2,0.15,0.05,0.0,0.05,0.1,0.15,0.25, 0.3,0.35,0.4,0.45,0.4,0.35,0.35,0.4],
  [-0.4,-0.45,-0.35,-0.25,-0.2,-0.2,-0.15,-0.05, 0.05,0.0,-0.05,-0.1,-0.15,-0.15,-0.1,-0.1, -0.1,-0.15,-0.2,-0.15,-0.1,-0.15,-0.25,-0.4, -0.55,-0.65,-0.65,-0.6,-0.6,-0.65,-0.7,-0.7],
  [0.05,-0.05,-0.05,0.1,0.2,0.25,0.2,0.1, -0.05,-0.1,-0.05,0.0,0.05,0.0,-0.05,0.0, 0.05,0.1,0.15,0.1,0.05,0.05,0.1,0.2, 0.25,0.25,0.2,0.2,0.25,0.25,0.2,0.2],
  [0.3,0.4,0.45,0.45,0.45,0.45,0.4,0.25, 0.1,-0.1,-0.2,-0.3,-0.35,-0.35,-0.3,-0.25, -0.2,-0.1,0.0,0.05,0.0,-0.05,-0.1,-0.1, -0.05,0.0,0.05,0.1,0.1,0.05,0.05,0.1],
  [-0.2,-0.1,-0.05,-0.15,-0.3,-0.35,-0.3,-0.15, 0.0,0.1,0.2,0.25,0.2,0.15,0.15,0.15, 0.1,0.05,-0.05,-0.1,-0.05,0.0,0.1,0.25, 0.4,0.5,0.55,0.55,0.5,0.45,0.45,0.5],
  [0.15,0.1,0.05,0.15,0.25,0.3,0.25,0.15, 0.05,-0.05,-0.15,-0.2,-0.2,-0.15,-0.05,0.0, 0.0,-0.05,-0.05,0.0,0.05,0.0,-0.1,-0.25, -0.4,-0.5,-0.55,-0.55,-0.5,-0.45,-0.45,-0.5],
  [-0.05,0.1,0.2,0.2,0.15,0.1,0.05,0.0, -0.05,0.0,0.05,0.1,0.15,0.15,0.1,0.05, 0.0,-0.05,-0.1,-0.05,0.05,0.1,0.15,0.1, 0.05,0.1,0.15,0.15,0.1,0.05,0.1,0.1],
  [0.45,0.5,0.35,0.2,0.1,0.05,0.05,0.05, 0.0,-0.05,-0.1,-0.1,-0.05,0.0,0.0,-0.05, -0.1,-0.1,-0.05,0.05,0.1,0.05,-0.05,-0.15, -0.2,-0.2,-0.25,-0.3,-0.3,-0.25,-0.25,-0.3],
  [-0.3,-0.15,0.0,0.15,0.3,0.35,0.3,0.15, 0.0,-0.1,-0.15,-0.1,-0.05,-0.05,-0.1,-0.1, -0.05,0.0,0.05,0.05,0.0,0.05,0.15,0.3, 0.45,0.6,0.65,0.65,0.6,0.55,0.6,0.6],
  [0.1,0.2,0.1,-0.05,-0.2,-0.25,-0.2,-0.1, 0.05,0.15,0.25,0.3,0.3,0.25,0.2,0.15, 0.1,0.0,-0.05,0.0,0.05,0.0,-0.1,-0.2, -0.3,-0.35,-0.35,-0.3,-0.3,-0.35,-0.4,-0.4]
];

// MATLAB line colour order
const colorCycle = "bgrcmyk";
const matlabColors = {
  b: '#0000ff', g: '#008000', r: '#ff0000', c: '#00bfbf',
  m: '#bf00bf', y: '#bfbf00', k: '#404040'
};

const allChannels = strongChannels.concat(bandChannels);
const channelColors = strongColors.split('').concat(bandChannels.map((_, i) => colorCycle[i % 7]));

const FONT = "'Liberation Sans', Arial, Helvetica, sans-serif";

// inward ticks, box and the x 10^-12 exponent, MATLAB style
const matlabFrame = {
  id: 'matlabFrame',
  afterDraw(chart) {
    const ctx = chart.ctx;
    const a = chart.chartArea;
    const xs = chart.scales.x, ys = chart.scales.y;
    const L = Math.round(a.left) + 0.5, R = Math.round(a.right) + 0.5;
    const T = Math.round(a.top) + 0.5, B = Math.round(a.bottom) + 0.5;
    ctx.save();
    ctx.strokeStyle = '#000';
    ctx.lineWidth = 1;
    ctx.strokeRect(L, T, R - L, B - T);
    ctx.beginPath();
    xTickValues.forEach(v => {
      const px = Math.round(xs.getPixelForValue(v)) + 0.5;
      ctx.moveTo(px, B); ctx.lineTo(px, B - 6);
      ctx.moveTo(px, T); ctx.lineTo(px, T + 6);
    });
    yTickValues.forEach(v => {
      const py = Math.round(ys.getPixelForValue(v)) + 0.5;
      ctx.moveTo(L, py); ctx.lineTo(L + 6, py);
      ctx.moveTo(R, py); ctx.lineTo(R - 6, py);
    });
    ctx.stroke();
    ctx.fillStyle = '#000';
    ctx.font = '10px ' + FONT;
    ctx.textAlign = 'left';
    ctx.textBaseline = 'alphabetic';
    ctx.fillText('x 10', 106, 23);
    ctx.fillText('-12', 130, 12);
    ctx.restore();
  }
};

new Chart(document.getElementById('meg_chart'), {
  type: 'line',
  data: {
    datasets: allChannels.map((vals, i) => ({
      label: 'ch' + (i + 1),
      data: vals.map((v, j) => ({x: timeMs[j], y: v})),
      borderColor: matlabColors[channelColors[i]],
      borderWidth: 1.2,
      pointRadius: 0,
      tension: 0.3,
      fill: false
    }))
  },
  options: {
    responsive: false,
    animation: false,
    events: [],
    layout: {
      padding: {top: 27, right: 78, left: 0, bottom: 0}
    },
    scales: {
      x: {
        type: 'linear',
        min: 10,
        max: 150,
        afterBuildTicks: (s) => { s.ticks = xTickValues.map(v => ({value: v})); },
        afterFit: (s) => { s.height = 36; },
        grid: {display: false, drawTicks: false},
        border: {display: false},
        ticks: {padding: 5, color: '#000', font: {family: FONT, size: 10}, maxRotation: 0},
        title: {display: true, text: 'Time [ms]', color: '#000', font: {family: FONT, size: 10}, padding: {top: 0, bottom: 4}}
      },
      y: {
        type: 'linear',
        min: -3.5,
        max: 3.2,
        afterBuildTicks: (s) => { s.ticks = yTickValues.map(v => ({value: v})); },
        afterFit: (s) => { s.width = 106; },
        grid: {display: false, drawTicks: false},
        border: {display: false},
        ticks: {padding: 5, color: '#000', font: {family: FONT, size: 10}},
        title: {display: true, text: 'Recordings [fT/m]', color: '#000', font: {family: FONT, size: 10}, padding: {top: 72, bottom: 0}}
      }
    },
    plugins: {
      legend: {display: false},
      tooltip: {enabled: false}
    }
  },
  plugins: [matlabFrame]
});
</script>
</body>
</html>
